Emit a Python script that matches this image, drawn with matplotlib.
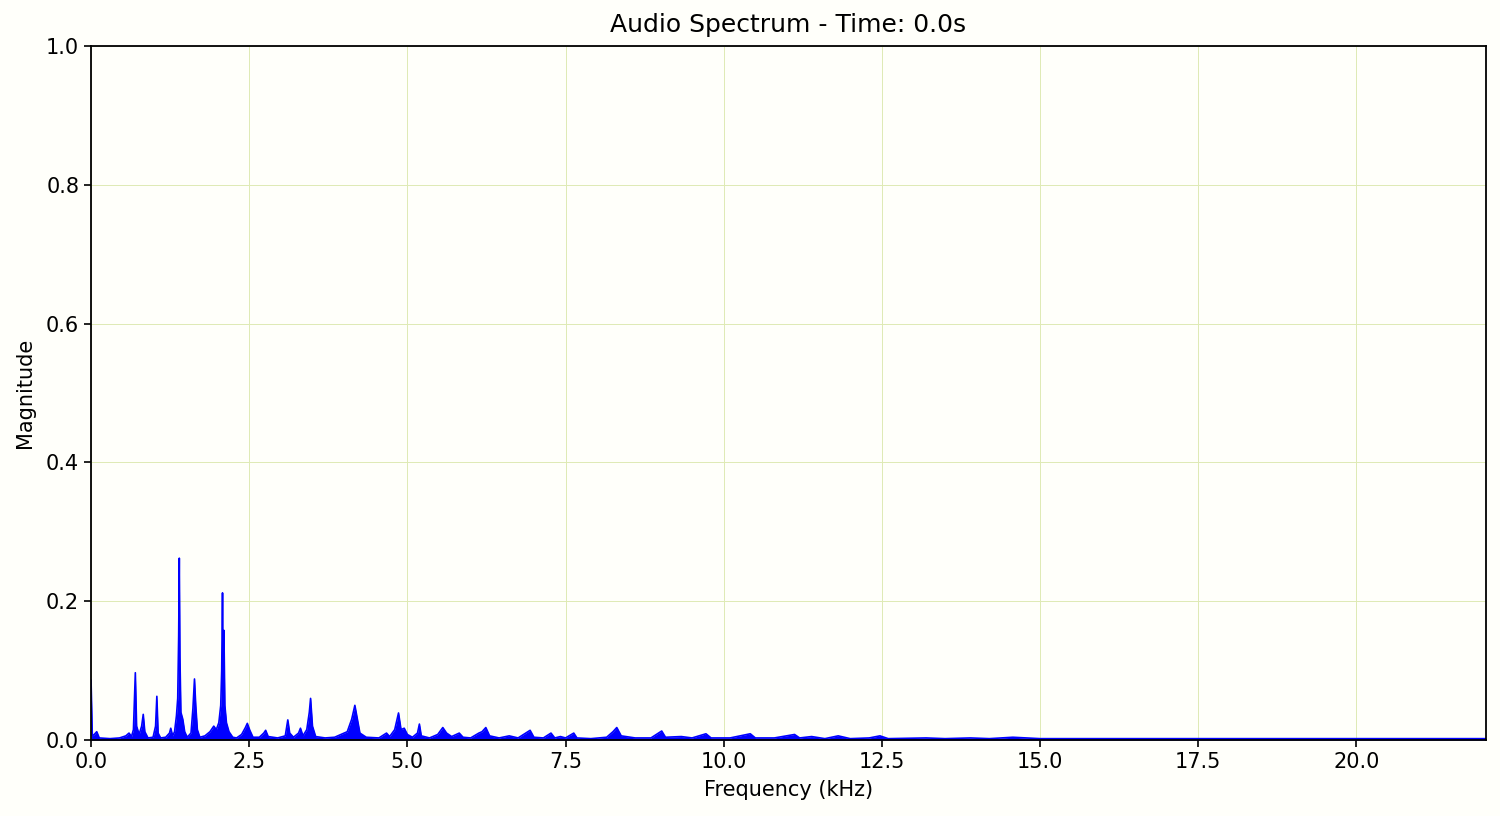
import numpy as np
import matplotlib
matplotlib.use('Agg')
import matplotlib.pyplot as plt

# spectrum (kHz, magnitude)
freq_khz = [0.0, 0.02, 0.05, 0.09, 0.13, 0.3, 0.45, 0.55, 0.60, 0.64, 0.67, 0.70, 0.72, 0.76,
            0.80, 0.825, 0.85, 0.90, 0.98, 1.02, 1.04, 1.06, 1.10, 1.18, 1.24, 1.26, 1.29,
            1.32, 1.35, 1.37, 1.385, 1.395, 1.405, 1.42, 1.45, 1.48, 1.52, 1.58, 1.61, 1.635,
            1.655, 1.68, 1.72, 1.80, 1.88, 1.94, 1.98, 2.02, 2.05, 2.065, 2.078, 2.088, 2.10,
            2.115, 2.14, 2.18, 2.24, 2.30, 2.38, 2.44, 2.47, 2.51, 2.56, 2.66, 2.73, 2.76,
            2.80, 2.95, 3.07, 3.11, 3.14, 3.20, 3.28, 3.31, 3.35, 3.41, 3.45, 3.47, 3.50,
            3.55, 3.7, 3.85, 3.95, 4.05, 4.12, 4.17, 4.20, 4.25, 4.35, 4.55, 4.67, 4.72,
            4.80, 4.86, 4.90, 4.95, 5.00, 5.08, 5.16, 5.19, 5.22, 5.35, 5.48, 5.56, 5.62,
            5.70, 5.82, 5.88, 6.0, 6.13, 6.18, 6.24, 6.30, 6.45, 6.61, 6.75, 6.94, 7.0,
            7.15, 7.27, 7.33, 7.42, 7.50, 7.63, 7.68, 7.9, 8.15, 8.25, 8.31, 8.38, 8.6,
            8.85, 9.02, 9.08, 9.33, 9.5, 9.72, 9.8, 10.1, 10.42, 10.5, 10.8, 11.12, 11.2,
            11.39, 11.6, 11.81, 12.0, 12.3, 12.47, 12.6, 13.2, 13.5, 13.9, 14.2, 14.57,
            15.0, 16.0, 17.0, 18.0, 19.0, 20.0, 21.0, 22.05]
magnitude = [0.086, 0.006, 0.008, 0.012, 0.003, 0.002, 0.003, 0.006, 0.010, 0.005, 0.015, 0.097,
             0.020, 0.008, 0.020, 0.037, 0.012, 0.003, 0.004, 0.020, 0.063, 0.010, 0.003, 0.004,
             0.010, 0.017, 0.006, 0.012, 0.035, 0.060, 0.150, 0.262, 0.120, 0.040, 0.030, 0.012,
             0.004, 0.010, 0.045, 0.088, 0.050, 0.015, 0.004, 0.006, 0.012, 0.020, 0.015, 0.025,
             0.050, 0.100, 0.212, 0.080, 0.158, 0.050, 0.025, 0.012, 0.004, 0.003, 0.008, 0.018,
             0.024, 0.014, 0.004, 0.004, 0.010, 0.014, 0.005, 0.003, 0.006, 0.029, 0.010, 0.004,
             0.010, 0.017, 0.006, 0.015, 0.040, 0.060, 0.020, 0.005, 0.003, 0.004, 0.008, 0.012,
             0.030, 0.050, 0.035, 0.010, 0.004, 0.003, 0.010, 0.005, 0.015, 0.039, 0.015, 0.017,
             0.008, 0.004, 0.010, 0.023, 0.006, 0.003, 0.008, 0.018, 0.010, 0.005, 0.010, 0.004,
             0.003, 0.010, 0.012, 0.018, 0.006, 0.003, 0.006, 0.003, 0.014, 0.004, 0.003, 0.010,
             0.003, 0.005, 0.003, 0.010, 0.003, 0.002, 0.004, 0.012, 0.018, 0.006, 0.003, 0.003,
             0.013, 0.004, 0.005, 0.003, 0.009, 0.003, 0.003, 0.009, 0.003, 0.003, 0.008, 0.003,
             0.005, 0.002, 0.006, 0.002, 0.003, 0.006, 0.002, 0.003, 0.002, 0.003, 0.002, 0.004,
             0.002, 0.002, 0.002, 0.002, 0.002, 0.002, 0.002, 0.002]

freq_khz = np.array(freq_khz)
magnitude = np.array(magnitude)

bg = '#fffffa'
fig = plt.figure(figsize=(15, 8.16), dpi=100, facecolor=bg)
ax = fig.add_axes([0.0607, 0.0931, 0.93, 0.8505])
ax.set_facecolor(bg)

ax.plot(freq_khz, magnitude, color='blue', linewidth=1.2)
ax.fill_between(freq_khz, 0, magnitude, color='blue', linewidth=0)

ax.set_xlim(0, 22.05)
ax.set_ylim(0, 1.0)
ax.set_xticks(np.arange(0, 22.05, 2.5))
ax.set_yticks(np.arange(0, 1.01, 0.2))
ax.tick_params(labelsize=15, length=5, width=1.2)
ax.grid(True, color='#dfeab4', linewidth=0.7)
ax.set_axisbelow(True)
for s in ax.spines.values():
    s.set_linewidth(1.3)

ax.set_title('Audio Spectrum - Time: 0.0s', fontsize=18, pad=10)
ax.set_xlabel('Frequency (kHz)', fontsize=15, labelpad=6)
ax.set_ylabel('Magnitude', fontsize=15, labelpad=8)

fig.savefig('out.png', dpi=100, facecolor=fig.get_facecolor())
